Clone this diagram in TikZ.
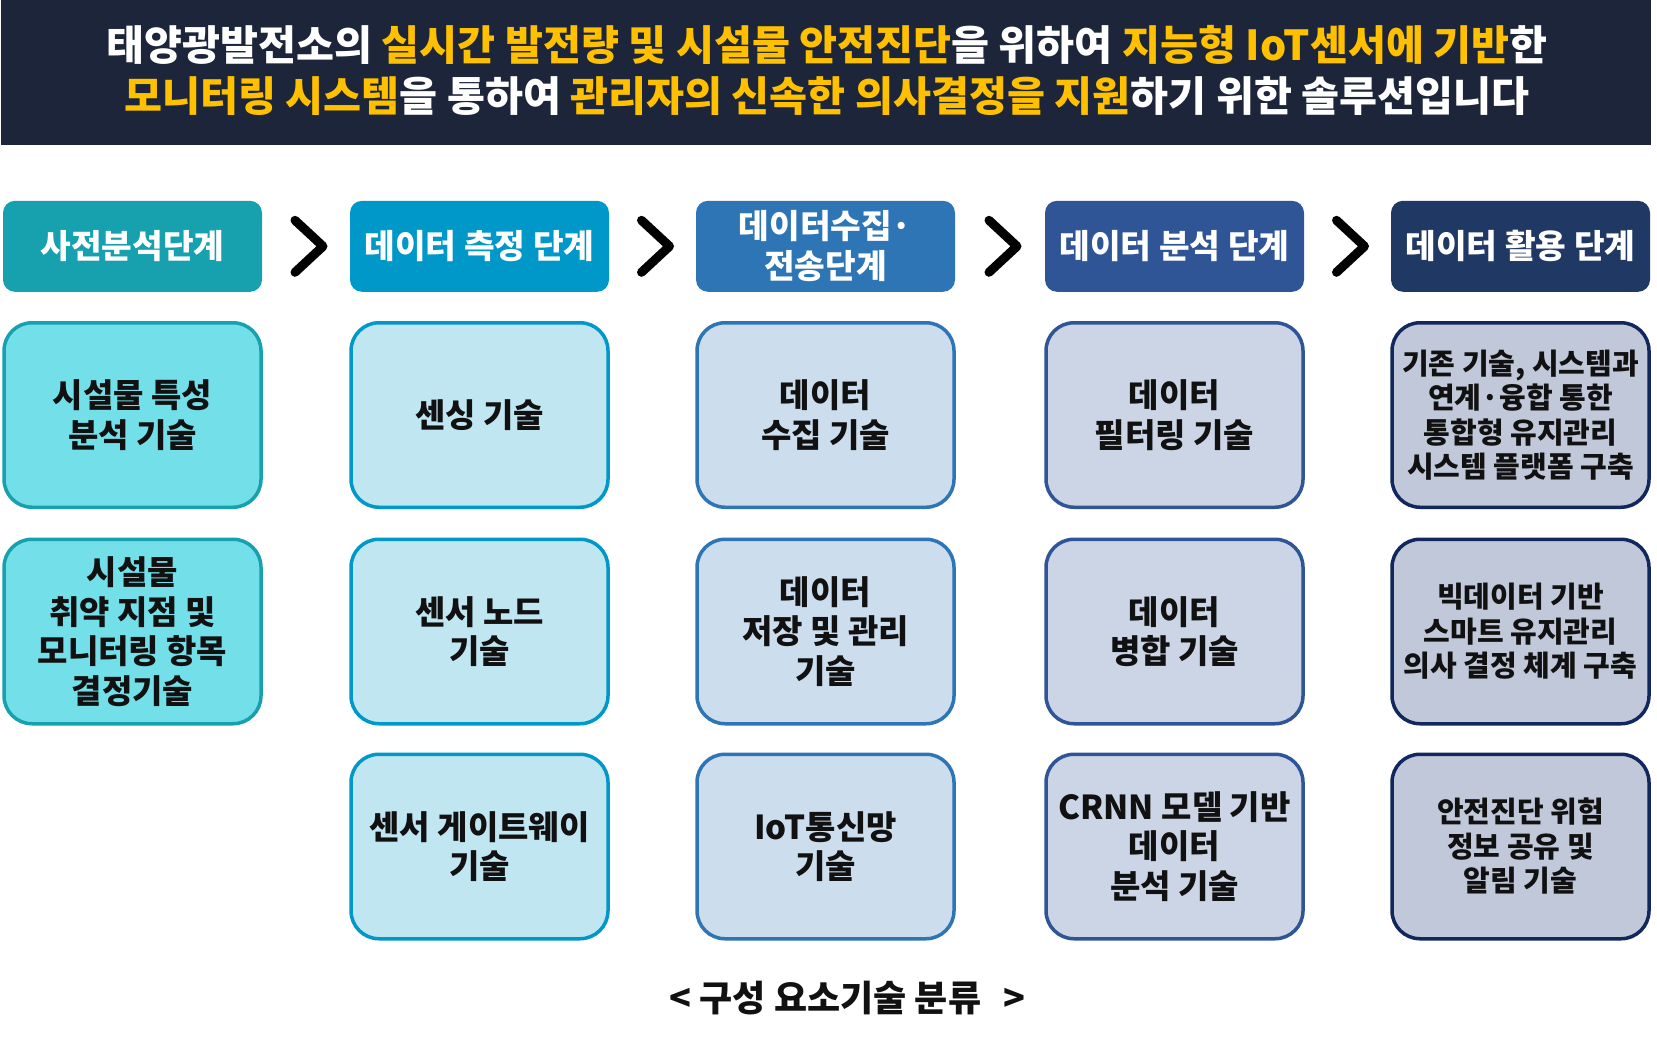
\documentclass[tikz,border=0pt]{standalone}
\usepackage{fontspec}
\setmainfont{Noto Sans CJK KR}
\usetikzlibrary{calc}
\definecolor{navy}{HTML}{1C2539}
\definecolor{gold}{HTML}{FFC000}
\definecolor{cA}{HTML}{17A1AF}
\definecolor{fA}{HTML}{72DFE9}
\definecolor{cB}{HTML}{0097C9}
\definecolor{fB}{HTML}{C0E6F1}
\definecolor{cC}{HTML}{2E75B6}
\definecolor{fC}{HTML}{CCDDEE}
\definecolor{cD}{HTML}{2F5597}
\definecolor{fD}{HTML}{CBD5E6}
\definecolor{cE}{HTML}{203864}
\definecolor{bE}{HTML}{13275F}
\definecolor{fE}{HTML}{C0C8D9}
\definecolor{ink}{HTML}{111111}
\begin{document}
\begin{tikzpicture}[x=1pt,y=-1pt,
  stagehead/.style={rounded corners=12pt, minimum width=259pt, minimum height=91pt,
    text=white, font=\bfseries\fontsize{33.3}{40}\selectfont, align=center, inner sep=0pt},
  techbox/.style={rounded corners=28pt, line width=3.5pt, minimum width=257pt,
    minimum height=184.5pt, align=center, inner sep=0pt, text=ink,
    font=\bfseries\fontsize{33}{39.5}\selectfont},
  smalltext/.style={font=\bfseries\fontsize{29}{34.5}\selectfont},
  chev/.style={line width=9pt, line cap=round, line join=round, draw=black}
]
\useasboundingbox (0,0) rectangle (1657,1044);
% title band
\fill[navy] (1,0) rectangle (1651,145);
\node[font=\bfseries\fontsize{41.3}{51}\selectfont, text=white, align=center, inner sep=0pt] (title) at (827,70)
 {태양광발전소의 {\color{gold}실시간 발전량 및 시설물 안전진단}을 위하여 {\color{gold}지능형 IoT센서에 기반}한\\
  {\color{gold}모니터링 시스템}을 통하여 {\color{gold}관리자의 신속한 의사결정을 지원}하기 위한 솔루션입니다};

% stage headers
\node[stagehead, fill=cA] (h1) at (132.5,246.3) {사전분석단계};
\node[stagehead, fill=cB] (h2) at (479.5,246.3) {데이터 측정 단계};
\node[stagehead, fill=cC] (h3) at (825.5,246.3) {데이터수집·\\전송단계};
\node[stagehead, fill=cD] (h4) at (1174.5,246.3) {데이터 분석 단계};
\node[stagehead, fill=cE] (h5) at (1520.5,246.3) {데이터 활용 단계};

% chevrons
\foreach \a/\b in {h1/h2,h2/h3,h3/h4,h4/h5}{
  \coordinate (m-\a) at ($(\a.east)!0.5!(\b.west)$);
  \draw[chev] ($(m-\a)+(-11,-26)$) -- ($(m-\a)+(17,0)$) -- ($(m-\a)+(-11,26)$);
}

% column 1
\node[techbox, draw=cA, fill=fA] (a1) at (132.5,415) {시설물 특성\\분석 기술};
\node[techbox, draw=cA, fill=fA] (a2) at (132.5,631.5) {시설물\\취약 지점 및\\모니터링 항목\\결정기술};
% column 2
\node[techbox, draw=cB, fill=fB] (b1) at (479.5,415) {센싱 기술};
\node[techbox, draw=cB, fill=fB] (b2) at (479.5,631.5) {센서 노드\\기술};
\node[techbox, draw=cB, fill=fB] (b3) at (479.5,846.5) {센서 게이트웨이\\기술};
% column 3
\node[techbox, draw=cC, fill=fC] (c1) at (825.5,415) {데이터\\수집 기술};
\node[techbox, draw=cC, fill=fC] (c2) at (825.5,631.5) {데이터\\저장 및 관리\\기술};
\node[techbox, draw=cC, fill=fC] (c3) at (825.5,846.5) {IoT통신망\\기술};
% column 4
\node[techbox, draw=cD, fill=fD] (d1) at (1174.5,415) {데이터\\필터링 기술};
\node[techbox, draw=cD, fill=fD] (d2) at (1174.5,631.5) {데이터\\병합 기술};
\node[techbox, draw=cD, fill=fD] (d3) at (1174.5,846.5) {CRNN 모델 기반\\데이터\\분석 기술};
% column 5
\node[techbox, smalltext, draw=bE, fill=fE] (e1) at (1520.5,415) {기존 기술, 시스템과\\연계·융합 통한\\통합형 유지관리\\시스템 플랫폼 구축};
\node[techbox, smalltext, draw=bE, fill=fE] (e2) at (1520.5,631.5) {빅데이터 기반\\스마트 유지관리\\의사 결정 체계 구축};
\node[techbox, smalltext, draw=bE, fill=fE] (e3) at (1520.5,846.5) {안전진단 위험\\정보 공유 및\\알림 기술};

% caption
\node[font=\bfseries\fontsize{36}{42}\selectfont, text=ink, inner sep=0pt] (cap) at (847.6,997.6) {< 구성 요소기술 분류\hspace{0.4em} >};
\end{tikzpicture}
\end{document}
